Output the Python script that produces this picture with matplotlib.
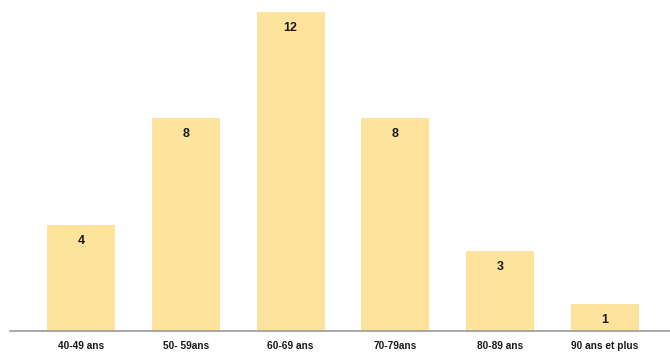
import matplotlib.pyplot as plt

categories = ["40-49 ans", "50- 59ans", "60-69 ans", "70-79ans", "80-89 ans", "90 ans et plus"]
values = [4, 8, 12, 8, 3, 1]

BAR_COLOR = "#fde39b"

fig = plt.figure(figsize=(6.7, 3.53), dpi=100)
ax = fig.add_axes([0, 22 / 353, 1, 331 / 353])

x = list(range(len(categories)))
ax.bar(x, values, width=0.65, color=BAR_COLOR)

# value labels sit just inside the top of each bar
for xi, v in zip(x, values):
    ax.text(xi, v - 0.6, str(v), ha="center", va="center",
            fontsize=9, fontweight="bold", family="Liberation Sans", color="#1a1a1a")

ax.set_xlim(-81 / 104.8, (670 - 81) / 104.8)
ax.set_ylim(0, 12 * 331 / 319)

for s in ["top", "right", "left"]:
    ax.spines[s].set_visible(False)
ax.spines["bottom"].set_color("#999999")
ax.spines["bottom"].set_linewidth(1.2)
ax.spines["bottom"].set_bounds((10 - 81) / 104.8, (670 - 81) / 104.8)

ax.set_yticks([])
ax.set_xticks(x)
ax.set_xticklabels(categories, fontsize=7.3, fontweight="bold", family="Liberation Sans", color="#1a1a1a")
ax.tick_params(axis="x", length=0, pad=7)

fig.savefig("out.png", dpi=100, facecolor="white")
